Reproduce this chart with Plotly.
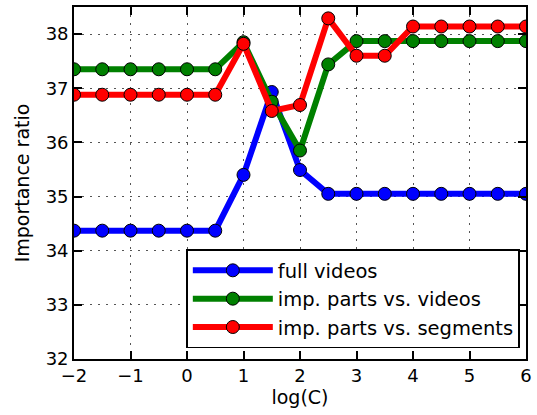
import plotly.graph_objects as go

log_c = [-2, -1.5, -1, -0.5, 0, 0.5, 1, 1.5, 2, 2.5, 3, 3.5, 4, 4.5, 5, 5.5, 6]
full_videos = [34.37, 34.37, 34.37, 34.37, 34.37, 34.37, 35.40, 36.93, 35.49, 35.05,
               35.05, 35.05, 35.05, 35.05, 35.05, 35.05, 35.05]
parts_vs_videos = [37.35, 37.35, 37.35, 37.35, 37.35, 37.35, 37.85, 36.75, 35.85, 37.44,
                   37.87, 37.87, 37.87, 37.87, 37.87, 37.87, 37.87]
parts_vs_segments = [36.88, 36.88, 36.88, 36.88, 36.88, 36.88, 37.82, 36.58, 36.69, 38.29,
                     37.60, 37.60, 38.14, 38.14, 38.14, 38.14, 38.14]

series = [
    ("full videos", full_videos, "#0000ff"),
    ("imp. parts vs. videos", parts_vs_videos, "#008000"),
    ("imp. parts vs. segments", parts_vs_segments, "#ff0000"),
]

FONT = "DejaVu Sans"
fig = go.Figure()
for name, ys, col in series:
    fig.add_trace(go.Scatter(
        x=log_c, y=ys, name=name, mode="lines+markers",
        line=dict(color=col, width=6),
        marker=dict(color=col, size=13, line=dict(color="black", width=1)),
    ))

axis_common = dict(
    showline=True, linecolor="black", linewidth=1.7, mirror="ticks",
    ticks="inside", ticklen=8, tickcolor="black", tickwidth=1.5,
    showgrid=True, gridcolor="#555555", griddash="2px,6px", gridwidth=1,
    zeroline=False, tickfont=dict(family=FONT, size=18, color="black"),
)
fig.update_xaxes(range=[-2, 6], dtick=1, title=dict(text="log(C)", standoff=4,
                 font=dict(family=FONT, size=19, color="black")), **axis_common)
fig.update_yaxes(range=[32, 38.5], dtick=1, title=dict(text="Importance ratio", standoff=11,
                 font=dict(family=FONT, size=19, color="black")), **axis_common)

fig.update_layout(
    width=537, height=415,
    margin=dict(l=74, r=7, t=5, b=56),
    paper_bgcolor="white", plot_bgcolor="white",
    font=dict(family=FONT, size=19, color="black"),
    legend=dict(x=0.987, y=0.03, xanchor="right", yanchor="bottom",
                bordercolor="black", borderwidth=1.7, bgcolor="white",
                font=dict(family=FONT, size=19.5, color="black"),
                itemwidth=80, tracegroupgap=0, valign="middle"),
    showlegend=True,
)
fig.write_html("out.html")
